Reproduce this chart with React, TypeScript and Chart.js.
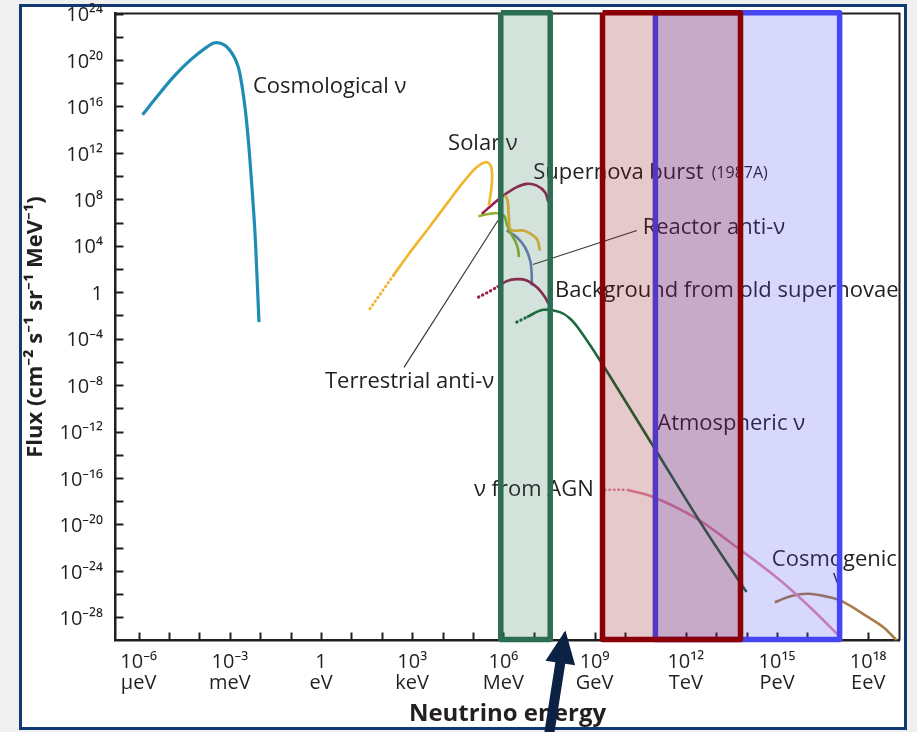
import React, { useEffect, useRef } from "react";
import { Chart, registerables } from "chart.js";

Chart.register(...registerables);

const FONT = '"Open Sans", "Noto Sans", "DejaVu Sans", sans-serif';
const INK = "#231f20";

// ---------- axes (exponents of 10) ----------
const xMinExp = -6.76;
const xMaxExp = 19.03;
const yMinExp = -30;
const yMaxExp = 24;
const xTickExps = [-6, -5, -4, -3, -2, -1, 0, 1, 2, 3, 4, 5, 6, 7, 8, 9, 10, 11, 12, 13, 14, 15, 16, 17, 18];
const xLabelExps = [-6, -3, 0, 3, 6, 9, 12, 15, 18];
const xLabelPowers = ["10⁻⁶", "10⁻³", "1", "10³", "10⁶", "10⁹", "10¹²", "10¹⁵", "10¹⁸"];
const xLabelUnits = ["μeV", "meV", "eV", "keV", "MeV", "GeV", "TeV", "PeV", "EeV"];
const yTickExps = [-28, -26, -24, -22, -20, -18, -16, -14, -12, -10, -8, -6, -4, -2, 0, 2, 4, 6, 8, 10, 12, 14, 16, 18, 20, 22, 24];
const yLabelExps = [24, 20, 16, 12, 8, 4, 0, -4, -8, -12, -16, -20, -24, -28];
const yLabelTexts = ["10²⁴", "10²⁰", "10¹⁶", "10¹²", "10⁸", "10⁴", "1", "10⁻⁴", "10⁻⁸", "10⁻¹²", "10⁻¹⁶", "10⁻²⁰", "10⁻²⁴", "10⁻²⁸"];

// ---------- curves: log10(E / eV) and log10(flux) ----------
const cosmoE = [-5.87, -5.405, -4.86, -4.31, -3.76, -3.49, -3.16, -2.885, -2.72, -2.61, -2.5, -2.39, -2.28, -2.17, -2.095, -2.04];
const cosmoF = [15.28, 16.8, 18.52, 19.96, 21.1, 21.48, 21.25, 20.39, 19.38, 17.95, 15.93, 13.07, 9.34, 5.03, 0.72, -2.58];

const solarDotE = [1.61, 2.0, 2.38];
const solarDotF = [-1.43, 0.02, 1.44];
const solarE = [2.38, 2.93, 3.48, 4.14, 4.68, 5.12, 5.43, 5.58, 5.63, 5.58, 5.52];
const solarF = [1.44, 3.44, 5.31, 7.61, 9.47, 10.76, 11.19, 10.9, 9.9, 8.47, 7.46];
const solar2E = [6.05, 6.14, 6.18, 6.24, 6.66, 6.93, 7.12, 7.2];
const solar2F = [8.36, 7.9, 6.46, 5.37, 5.31, 4.97, 4.51, 3.59];

const snE = [5.29, 5.67, 6.0, 6.44, 6.77, 7.1, 7.37, 7.48];
const snF = [6.75, 7.61, 8.32, 9.04, 9.33, 9.18, 8.61, 7.75];

const bgDotE = [5.18, 5.5, 5.78];
const bgDotF = [-0.43, 0.0, 0.43];
const bgE = [5.78, 6.11, 6.44, 6.77, 7.1, 7.37, 7.48];
const bgF = [0.43, 0.95, 1.12, 1.01, 0.43, -0.43, -1.0];

const reactorE = [6.11, 6.44, 6.71, 6.88, 6.93, 6.93];
const reactorF = [5.31, 4.73, 3.87, 2.73, 1.58, 0.58];

const terrE = [5.18, 5.45, 5.78, 6.02, 6.11, 6.22, 6.38, 6.48, 6.51];
const terrF = [6.54, 6.71, 6.8, 6.6, 5.89, 5.16, 4.45, 3.73, 3.01];

const atmDotE = [6.44, 6.77];
const atmDotF = [-2.58, -2.15];
const atmE = [6.77, 7.31, 7.86, 8.19, 8.52, 9.18, 10.88, 12.58, 13.67, 14.0];
const atmF = [-2.15, -1.52, -1.72, -2.27, -3.3, -5.88, -13.06, -20.24, -24.55, -25.82];

const agnDotE = [9.34, 10.06];
const agnDotF = [-17.02, -17.02];
const agnE = [10.06, 10.93, 12.36, 13.67, 15.1, 16.19, 17.07];
const agnF = [-17.02, -17.64, -19.5, -21.95, -24.81, -27.39, -29.69];

const cosmogE = [14.93, 15.5, 16.03, 16.6, 17.13, 18.0, 18.5, 18.94];
const cosmogF = [-26.7, -26.15, -25.98, -26.2, -26.61, -27.99, -28.85, -29.99];

// leader lines
const terrLeadE = [2.73, 5.82];
const terrLeadF = [-6.48, 6.17];
const reactLeadE = [6.97, 10.39];
const reactLeadF = [2.38, 5.31];

// highlighted energy windows
const greenBoxE = [5.914, 7.54];
const redBoxE = [9.26, 13.8];
const blueBoxE = [11.0, 17.06];
const boxTopF = 24.07;
const boxBottomF = -29.91;

// annotations
const noteTexts = ["Cosmological ν", "Solar ν", "Supernova burst", "(1987A)", "Reactor anti-ν", "Background from old supernovae", "Terrestrial anti-ν", "Atmospheric ν", "ν from AGN", "Cosmogenic", "ν"];
const noteE = [-2.237, 4.18, 6.984, 12.85, 10.58, 7.697, 0.13, 11.06, 5.03, 14.83, 16.84];
const noteF = [17.72, 12.81, 10.29, 10.22, 5.53, 0.146, -7.69, -11.34, -17.0, -23.02, -24.6];
const noteSizes = [22, 22, 22, 16, 22, 22, 22, 22, 22, 22, 18];

const arrowTipE = 8.04;
const arrowTipF = -29.13;

// ---------- helpers ----------
const P = (es: number[], fs: number[]) => es.map((e, i) => ({ x: Math.pow(10, e), y: Math.pow(10, fs[i]) }));

function curve(es: number[], fs: number[], color: string, width: number, dotted = false) {
  return {
    type: "line",
    data: P(es, fs),
    borderColor: color,
    borderWidth: width,
    borderDash: dotted ? [0.5, 4] : [],
    borderCapStyle: dotted ? "round" : "butt",
    borderJoinStyle: "round",
    pointRadius: 0,
    tension: dotted ? 0 : 0.35,
    fill: false,
    order: 100,
  };
}

function boxOutline(xs: number[], color: string, order: number) {
  const es = [xs[0], xs[1], xs[1], xs[0], xs[0]];
  const fs = [boxTopF, boxTopF, boxBottomF, boxBottomF, boxTopF];
  return {
    type: "line",
    data: P(es, fs),
    borderColor: color,
    borderWidth: 5.5,
    borderJoinStyle: "round",
    pointRadius: 0,
    tension: 0,
    fill: false,
    clip: false,
    order,
  };
}

function boxFill(xs: number[], color: string, order: number) {
  return {
    type: "line",
    data: P([xs[0], xs[1]], [boxTopF, boxTopF]),
    borderColor: "rgba(0,0,0,0)",
    borderWidth: 0,
    backgroundColor: color,
    pointRadius: 0,
    tension: 0,
    fill: "start",
    order,
  };
}

const datasets: any[] = [
  curve(cosmoE, cosmoF, "#1f8db3", 3.2),
  curve(solarDotE, solarDotF, "#f2b530", 3, true),
  curve(solarE, solarF, "#f2b530", 2.7),
  curve(solar2E, solar2F, "#f2b530", 2.7),
  curve(snE, snF, "#9b1d4f", 2.6),
  curve(bgDotE, bgDotF, "#9b1d4f", 3, true),
  curve(bgE, bgF, "#9b1d4f", 2.6),
  curve(terrE, terrF, "#8db52c", 2.6),
  curve(reactorE, reactorF, "#6d7fb8", 2.6),
  curve(atmDotE, atmDotF, "#1b6a3b", 3, true),
  curve(atmE, atmF, "#1b6a3b", 2.6),
  curve(agnDotE, agnDotF, "#e58cab", 2.6, true),
  curve(agnE, agnF, "#e58cab", 2.6),
  curve(cosmogE, cosmogF, "#a97c48", 2.6),
  { ...curve(terrLeadE, terrLeadF, "#3a3a3a", 1.2), tension: 0 },
  { ...curve(reactLeadE, reactLeadF, "#3a3a3a", 1.2), tension: 0 },
  boxFill(blueBoxE, "rgba(72,72,246,0.21)", 6),
  boxOutline(blueBoxE, "#4646f7", 5),
  boxFill(redBoxE, "rgba(139,0,6,0.21)", 4),
  boxOutline(redBoxE, "#8b0006", 3),
  boxFill(greenBoxE, "rgba(42,110,80,0.2)", 2),
  boxOutline(greenBoxE, "#2b6e52", 1),
];

const decorPlugin = {
  id: "decor",
  beforeDraw(chart: any) {
    const { ctx, width, height } = chart;
    ctx.save();
    ctx.fillStyle = "#f0f0f0";
    ctx.fillRect(0, 0, width, height);
    ctx.fillStyle = "#ffffff";
    ctx.fillRect(20.5, 5.5, 885, 723);
    ctx.lineWidth = 3;
    ctx.strokeStyle = "#0f3a73";
    ctx.strokeRect(20.5, 5.5, 885, 723);
    ctx.restore();
  },
  beforeDatasetsDraw(chart: any) {
    const { ctx, chartArea: a, scales } = chart;
    const xs = scales.x;
    const ys = scales.y;
    ctx.save();
    ctx.strokeStyle = INK;
    ctx.lineWidth = 2;
    ctx.beginPath();
    ctx.moveTo(a.left, a.top);
    ctx.lineTo(a.right, a.top);
    ctx.lineTo(a.right, a.bottom);
    ctx.stroke();
    ctx.beginPath();
    for (const t of xs.ticks) {
      const px = Math.round(xs.getPixelForValue(t.value)) + 0.5;
      ctx.moveTo(px, a.bottom);
      ctx.lineTo(px, a.bottom - 8);
    }
    for (const t of ys.ticks) {
      const py = Math.round(ys.getPixelForValue(t.value)) + 0.5;
      ctx.moveTo(a.left, py);
      ctx.lineTo(a.left + 8, py);
    }
    ctx.stroke();
    ctx.fillStyle = INK;
    ctx.textBaseline = "middle";
    ctx.textAlign = "left";
    noteTexts.forEach((t, i) => {
      ctx.font = `${noteSizes[i]}px ${FONT}`;
      ctx.fillText(t, xs.getPixelForValue(Math.pow(10, noteE[i])), ys.getPixelForValue(Math.pow(10, noteF[i])));
    });
    ctx.restore();
  },
  afterDraw(chart: any) {
    const { ctx, scales } = chart;
    const tx = scales.x.getPixelForValue(Math.pow(10, arrowTipE));
    const ty = scales.y.getPixelForValue(Math.pow(10, arrowTipF));
    const ux = 0.155, uy = -0.988;
    const px = -uy, py = ux;
    const headLen = 33, headHalf = 15, shaftHalf = 5, tail = 130;
    const bx = tx - headLen * ux, by = ty - headLen * uy;
    const ex = tx - tail * ux, ey = ty - tail * uy;
    ctx.save();
    ctx.fillStyle = "#0c2244";
    ctx.beginPath();
    ctx.moveTo(tx, ty);
    ctx.lineTo(bx + headHalf * px, by + headHalf * py);
    ctx.lineTo(bx + shaftHalf * px, by + shaftHalf * py);
    ctx.lineTo(ex + shaftHalf * px, ey + shaftHalf * py);
    ctx.lineTo(ex - shaftHalf * px, ey - shaftHalf * py);
    ctx.lineTo(bx - shaftHalf * px, by - shaftHalf * py);
    ctx.lineTo(bx - headHalf * px, by - headHalf * py);
    ctx.closePath();
    ctx.fill();
    ctx.restore();
  },
};

function zeroPad(s: any) {
  s.paddingLeft = 0;
  s.paddingRight = 0;
  s.paddingTop = 0;
  s.paddingBottom = 0;
}

export default function App() {
  const ref = useRef<HTMLCanvasElement>(null);
  useEffect(() => {
    const canvas = ref.current;
    if (!canvas) return;
    const chart = new Chart(canvas, {
      type: "line",
      data: { datasets },
      options: {
        responsive: false,
        maintainAspectRatio: false,
        devicePixelRatio: 1,
        animation: false,
        events: [],
        layout: { padding: { left: 0, top: 13.5, right: 17.5, bottom: 0 } },
        plugins: {
          legend: { display: false },
          tooltip: { enabled: false },
          title: { display: false },
        },
        scales: {
          x: {
            type: "logarithmic",
            min: Math.pow(10, xMinExp),
            max: Math.pow(10, xMaxExp),
            bounds: "data",
            grid: { display: false, drawTicks: false },
            border: { display: true, color: INK, width: 2.5 },
            afterBuildTicks: (s: any) => {
              s.ticks = xTickExps.map((k) => ({ value: Math.pow(10, k) }));
            },
            afterFit: (s: any) => {
              s.height = 91.5;
              zeroPad(s);
            },
            ticks: {
              autoSkip: false,
              maxRotation: 0,
              minRotation: 0,
              padding: 11,
              color: INK,
              font: { family: FONT, size: 20, lineHeight: 1.05 },
              callback: (v: any) => {
                const k = Math.round(Math.log10(Number(v)));
                const i = xLabelExps.indexOf(k);
                return i < 0 ? "" : [xLabelPowers[i], xLabelUnits[i]];
              },
            },
            title: {
              display: true,
              text: "Neutrino energy",
              color: INK,
              font: { family: FONT, size: 24, weight: "bold", lineHeight: 1.2 },
              padding: { top: 0, bottom: 3 },
            },
          },
          y: {
            type: "logarithmic",
            min: Math.pow(10, yMinExp),
            max: Math.pow(10, yMaxExp),
            bounds: "data",
            grid: { display: false, drawTicks: false },
            border: { display: true, color: INK, width: 2.5 },
            afterBuildTicks: (s: any) => {
              s.ticks = yTickExps.map((k) => ({ value: Math.pow(10, k) }));
            },
            afterFit: (s: any) => {
              s.width = 115.5;
              zeroPad(s);
            },
            ticks: {
              autoSkip: false,
              padding: 12.5,
              labelOffset: 2,
              color: INK,
              font: { family: FONT, size: 20 },
              callback: (v: any) => {
                const k = Math.round(Math.log10(Number(v)));
                const i = yLabelExps.indexOf(k);
                return i < 0 ? "" : yLabelTexts[i];
              },
            },
            title: {
              display: true,
              text: "Flux (cm⁻² s⁻¹ sr⁻¹ MeV⁻¹)",
              color: INK,
              font: { family: FONT, size: 22, weight: "bold", lineHeight: 1.2 },
              padding: { top: 23, bottom: 0 },
            },
          },
        },
      },
      plugins: [decorPlugin],
    } as any);
    return () => chart.destroy();
  }, []);
  return (
    <div style={{ position: "absolute", left: 0, top: 0, width: 917, height: 732 }}>
      <canvas ref={ref} width={917} height={732} style={{ display: "block", width: 917, height: 732 }} />
    </div>
  );
}
